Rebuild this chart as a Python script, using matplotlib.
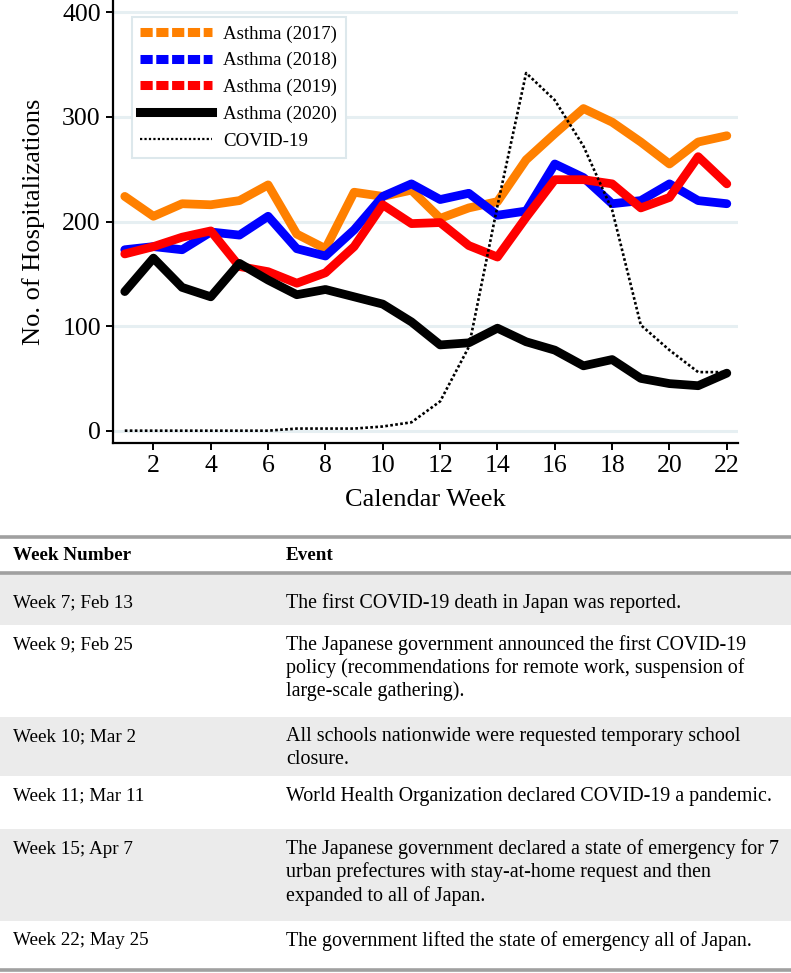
import numpy as np
import matplotlib
matplotlib.use('Agg')
import matplotlib.pyplot as plt
from matplotlib.lines import Line2D
from matplotlib.patches import Rectangle

plt.rcParams['font.family'] = ['Liberation Serif', 'DejaVu Serif']

# weekly hospitalisations
weeks = np.arange(1, 23)
asthma_2017 = [224, 205, 217, 216, 220, 235, 188, 174, 228, 224, 230, 203,
               213, 219, 259, 284, 308, 295, 276, 255, 276, 282]
asthma_2018 = [173, 176, 173, 190, 187, 205, 174, 167, 192, 224, 236, 221,
               227, 206, 210, 255, 242, 217, 220, 236, 220, 217]
asthma_2019 = [169, 176, 185, 191, 157, 152, 141, 151, 176, 216, 198, 199,
               177, 166, 204, 240, 240, 236, 213, 223, 262, 236]
asthma_2020 = [133, 165, 137, 128, 160, 144, 130, 135, 128, 121, 104, 82,
               84, 98, 85, 77, 62, 68, 50, 45, 43, 55]
covid = [0, 0, 0, 0, 0, 0, 2, 2, 2, 4, 8, 28,
         80, 215, 342, 316, 272, 211, 101, 77, 56, 56]

series_labels = ['Asthma (2017)', 'Asthma (2018)', 'Asthma (2019)', 'Asthma (2020)', 'COVID-19']
series_colors = ['#ff8000', '#0000ff', '#ff0000', 'black', 'black']

# event table
col_heads = ['Week Number', 'Event']
event_weeks = ['Week 7; Feb 13', 'Week 9; Feb 25', 'Week 10; Mar 2',
               'Week 11; Mar 11', 'Week 15; Apr 7', 'Week 22; May 25']
event_text = [
    ['The first COVID-19 death in Japan was reported.'],
    ['The Japanese government announced the first COVID-19',
     'policy (recommendations for remote work, suspension of',
     'large-scale gathering).'],
    ['All schools nationwide were requested temporary school',
     'closure.'],
    ['World Health Organization declared COVID-19 a pandemic.'],
    ['The Japanese government declared a state of emergency for 7',
     'urban prefectures with stay-at-home request and then',
     'expanded to all of Japan.'],
    ['The government lifted the state of emergency all of Japan.'],
]

W, H = 791, 973
fig = plt.figure(figsize=(W/100, H/100), dpi=100)

#### plot ####
ax = fig.add_axes([113.3/W, 1-442.7/H, 624.7/W, 442.7/H])
for y in [0, 100, 200, 300, 400]:
    ax.axhline(y, color='#e6eff2', lw=2.2, zorder=0)

ys = [asthma_2017, asthma_2018, asthma_2019, asthma_2020]
for y, c in zip(ys, series_colors[:4]):
    ax.plot(weeks, y, color=c, lw=6.3, solid_joinstyle='round',
            solid_capstyle='round', zorder=2)
ax.plot(weeks, covid, color='black', lw=1.9, ls=(0, (1, 0.9)), zorder=3)

ax.set_xlim(0.6, 22.39)
ax.set_ylim(-11.5, 411.8)
ax.set_xticks(np.arange(2, 23, 2))
ax.set_yticks([0, 100, 200, 300, 400])
for s in ['top', 'right']:
    ax.spines[s].set_visible(False)
for s in ['left', 'bottom']:
    ax.spines[s].set_linewidth(1.6)
ax.tick_params(labelsize=18.5, width=1.4, length=5, pad=4)
ax.set_ylabel('No. of Hospitalizations', fontsize=19)
ax.yaxis.set_label_coords(-0.109, 0.5)
ax.set_xlabel('Calendar Week', fontsize=19)
ax.xaxis.set_label_coords(0.5, -0.105)

# legend
handles = []
for c in series_colors[:3]:
    handles.append(Line2D([0], [0], color=c, lw=6.5, ls=(0, (1.35, 0.4)),
                          dash_capstyle='butt'))
handles.append(Line2D([0], [0], color='black', lw=6.5))
handles.append(Line2D([0], [0], color='black', lw=1.6, ls=(0, (1, 1))))
leg = ax.legend(handles, series_labels, loc='upper left',
                bbox_to_anchor=(0.0295, 0.962), borderaxespad=0,
                fontsize=13.6, handlelength=3.8, handletextpad=0.6,
                labelspacing=0.5, borderpad=0.45, fancybox=False,
                framealpha=1)
leg.get_frame().set_edgecolor('#dde8ec')
leg.get_frame().set_linewidth(1.5)

#### table ####
tx = fig.add_axes([0, 0, 1, 1], zorder=-1)
tx.set_xlim(0, W)
tx.set_ylim(H, 0)
tx.axis('off')

row_tops = [573.3, 625, 716.7, 776, 829.3, 920.7, 968.5]
first_line = [603.3, 645, 736.7, 796, 849, 940.7]
for i in range(len(event_weeks)):
    if i % 2 == 0:
        tx.add_patch(Rectangle((0, row_tops[i]), W, row_tops[i+1]-row_tops[i],
                               color='#ebebeb', lw=0))
    tx.text(12.7, first_line[i], event_weeks[i], fontsize=13.8, va='center')
    for j, line in enumerate(event_text[i]):
        tx.text(286, first_line[i] + j*23.3, line, fontsize=14.4, va='center')

tx.text(12.7, 556, col_heads[0], fontsize=13.8, weight='bold', va='center')
tx.text(286, 556, col_heads[1], fontsize=13.8, weight='bold', va='center')
for y in [537, 573.3, 970]:
    tx.plot([0, W], [y, y], color='#a0a0a0', lw=2.6)

plt.savefig('out.png', dpi=100)
